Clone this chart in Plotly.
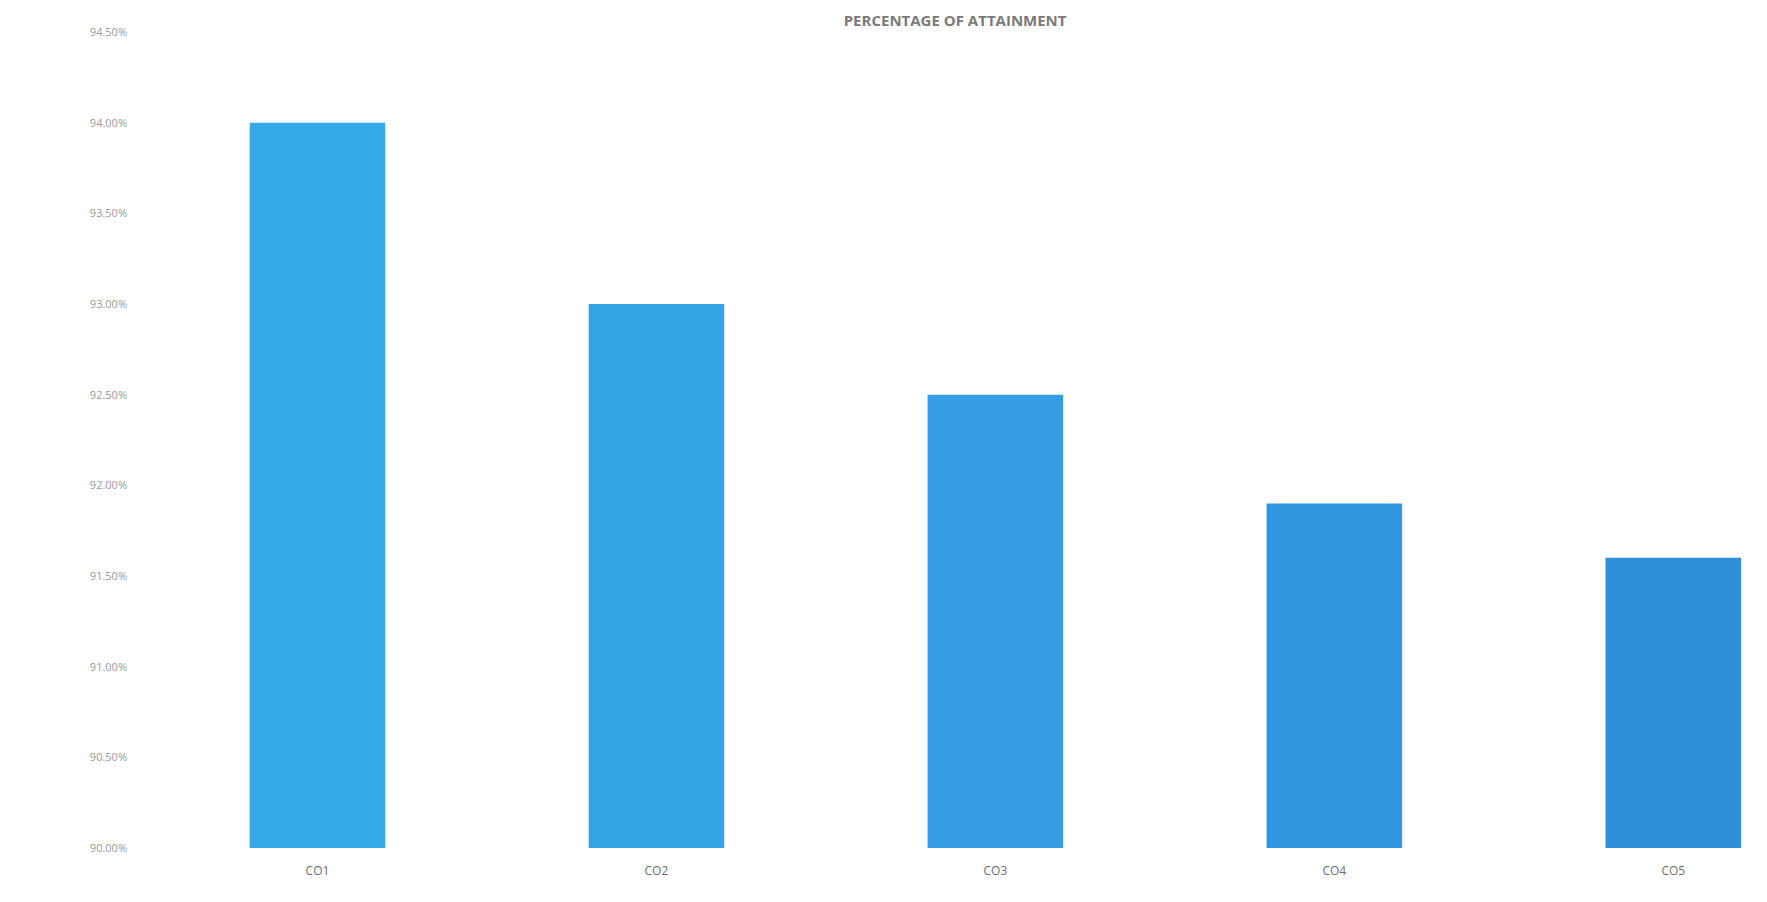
import plotly.graph_objects as go

categories = ["CO1", "CO2", "CO3", "CO4", "CO5"]
attainment = [94.00, 93.00, 92.50, 91.90, 91.60]
tick_values = [90.0, 90.5, 91.0, 91.5, 92.0, 92.5, 93.0, 93.5, 94.0, 94.5]
tick_labels = ["90.00%", "90.50%", "91.00%", "91.50%", "92.00%",
               "92.50%", "93.00%", "93.50%", "94.00%", "94.50%"]
bar_colors = ["#36AAE8", "#34A4E5", "#329DE2", "#3096DF", "#2E90DB"]

fig = go.Figure(go.Bar(
    x=categories,
    y=attainment,
    base=0,
    width=0.4,
    marker=dict(color=bar_colors, line=dict(width=0)),
))

fig.update_layout(
    width=1767, height=902,
    margin=dict(l=140, r=0, t=24, b=62),
    paper_bgcolor="white", plot_bgcolor="white",
    showlegend=False,
    title=dict(text="<b>PERCENTAGE OF ATTAINMENT</b>", x=0.536, xanchor="center",
               y=0.992, yanchor="top",
               font=dict(family="Open Sans", size=15, color="#7a7a7a")),
    font=dict(family="Open Sans"),
)
fig.update_xaxes(range=[-0.5, 4.3], showgrid=False, showline=False, ticks="",
                 ticklabelstandoff=14,
                 tickfont=dict(size=12, color="#6e6e6e"))
fig.update_yaxes(range=[90.0, 94.5], tickvals=tick_values, ticktext=tick_labels,
                 showgrid=False, zeroline=False, showline=False, ticks="",
                 ticklabelstandoff=20,
                 tickfont=dict(size=11, color="#9a9a9a"))

fig.write_html("out.html")
